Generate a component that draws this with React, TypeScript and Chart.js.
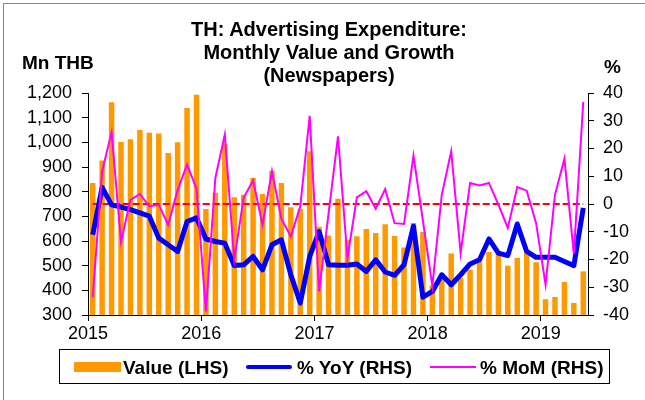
import React, { useEffect, useRef } from "react";
import { Chart, registerables } from "chart.js";

Chart.register(...registerables);

// ---- data ----
const yearLabels = ["2015", "2016", "2017", "2018", "2019"];

const valueLHS = [
  835, 926, 1162, 1001, 1012, 1050, 1039, 1036, 957, 1000, 1139, 1193,
  730, 796, 995, 777, 788, 855, 791, 885, 835, 737, 731, 964,
  658, 622, 771, 605, 619, 649, 632, 668, 620, 574, 673, 636,
  420, 445, 549, 450, 484, 518, 555, 549, 500, 531, 554, 514,
  364, 373, 434, 349, 477,
];

const yoyRHS = [
  -11.1, 6.0, -0.3, -1.1, -2.0, -3.2, -4.4, -12.3, -14.7, -17.1, -6.3, -5.0,
  -12.6, -13.5, -14.1, -22.2, -21.9, -18.9, -23.7, -14.7, -12.9, -25.5, -35.7, -18.9,
  -9.9, -21.9, -22.1, -22.1, -21.6, -24.3, -20.1, -24.5, -25.7, -21.9, -8.0, -33.6,
  -31.5, -25.5, -29.1, -25.5, -21.6, -20.1, -12.6, -17.7, -18.6, -7.2, -17.1, -19.2,
  -19.2, -19.2, -20.7, -22.2, -1.4,
];

const momRHS = [
  -33.6, 11.8, 25.9, -13.7, 1.5, 3.6, -0.9, -0.2, -7.5, 5.0, 14.2, 5.5,
  -38.7, 9.4, 25.0, -20.1, 2.2, 8.5, -7.5, 11.8, -5.3, -11.7, -0.9, 31.8,
  -31.5, -3.5, 24.4, -19.5, 2.4, 4.6, -1.7, 5.4, -6.9, -7.2, 17.4, -6.0,
  -29.5, 3.3, 19.0, -17.7, 7.6, 6.7, 7.6, -0.2, -8.6, 6.1, 4.8, -6.9,
  -29.1, 3.3, 16.3, -18.0, 36.8,
];

const zeroLine = [0, 0];

const FONT = "'Liberation Sans', Arial, sans-serif";

export default function App() {
  const canvasRef = useRef<HTMLCanvasElement | null>(null);

  useEffect(() => {
    const canvas = canvasRef.current;
    if (!canvas) return;
    const n = valueLHS.length;
    const toPts = (arr: number[]) => arr.map((v, i) => ({ x: i + 0.5, y: v }));

    const chart = new Chart(canvas, {
      type: "bar",
      data: {
        datasets: [
          {
            type: "line",
            label: "% MoM (RHS)",
            data: toPts(momRHS),
            yAxisID: "y2",
            borderColor: "#FF00FF",
            borderWidth: 2,
            pointRadius: 0,
            tension: 0,
            order: 1,
          } as any,
          {
            type: "line",
            label: "% YoY (RHS)",
            data: toPts(yoyRHS),
            yAxisID: "y2",
            borderColor: "#0000FF",
            borderWidth: 5,
            pointRadius: 0,
            tension: 0,
            borderJoinStyle: "round",
            order: 2,
          } as any,
          {
            type: "line",
            label: "zero",
            data: [
              { x: 0.5, y: zeroLine[0] },
              { x: n - 0.5, y: zeroLine[1] },
            ],
            yAxisID: "y2",
            borderColor: "#FF0000",
            borderWidth: 2,
            borderDash: [7, 3],
            pointRadius: 0,
            order: 3,
          } as any,
          {
            type: "bar",
            label: "Value (LHS)",
            data: toPts(valueLHS),
            yAxisID: "y",
            backgroundColor: "#FF9900",
            borderWidth: 0,
            categoryPercentage: 1,
            barPercentage: 0.58,
            order: 10,
          } as any,
        ],
      },
      options: {
        responsive: false,
        animation: false,
        layout: { padding: { top: 93, left: 0, right: 0, bottom: 0 } },
        plugins: { legend: { display: false }, tooltip: { enabled: false }, title: { display: false } },
        scales: {
          x: {
            type: "linear",
            min: 0,
            max: n,
            offset: false,
            grid: { display: true, drawOnChartArea: false, drawTicks: true, tickLength: 6, color: "#000", offset: false },
            border: { display: true, color: "#000", width: 1 },
            ticks: {
              stepSize: 12,
              includeBounds: false,
              autoSkip: false,
              maxRotation: 0,
              padding: 2,
              color: "#000",
              font: { family: FONT, size: 18 },
              callback: (v: any) => (Number(v) % 12 === 0 ? yearLabels[Number(v) / 12] ?? "" : ""),
            },
            afterFit: (s: any) => {
              s.height = 85;
            },
          },
          y: {
            type: "linear",
            position: "left",
            min: 300,
            max: 1200,
            beginAtZero: false,
            grid: { display: true, drawOnChartArea: false, drawTicks: true, tickLength: 6, color: "#000" },
            border: { display: true, color: "#000", width: 1 },
            ticks: {
              stepSize: 100,
              padding: 10,
              color: "#000",
              font: { family: FONT, size: 18 },
              callback: (v: any) => Number(v).toLocaleString("en-US"),
            },
            afterFit: (s: any) => {
              s.width = 88;
            },
          },
          y2: {
            type: "linear",
            position: "right",
            min: -40,
            max: 40,
            grid: { display: true, drawOnChartArea: false, drawTicks: true, tickLength: 6, color: "#000" },
            border: { display: true, color: "#000", width: 1 },
            ticks: {
              stepSize: 10,
              padding: 9,
              color: "#000",
              font: { family: FONT, size: 18 },
            },
            afterFit: (s: any) => {
              s.width = 57;
            },
          },
        },
      } as any,
    });
    return () => chart.destroy();
  }, []);

  const abs = (o: React.CSSProperties): React.CSSProperties => ({ position: "absolute", ...o });
  const legendText: React.CSSProperties = {
    position: "absolute",
    top: 0,
    lineHeight: "35px",
    fontFamily: FONT,
    fontWeight: "bold",
    fontSize: 19,
    color: "#000",
    whiteSpace: "nowrap",
  };

  return (
    <div style={abs({ left: 0, top: 0, width: 645, height: 400, overflow: "hidden", background: "#fff" })}>
      <div style={abs({ left: 3, top: 3, width: 700, height: 420, borderLeft: "1px solid #888", borderTop: "1px solid #888" })} />
      <canvas ref={canvasRef} width={645} height={400} style={abs({ left: 0, top: 0, width: 645, height: 400 })} />
      <div
        style={abs({
          left: 129,
          top: 18,
          width: 400,
          textAlign: "center",
          fontFamily: FONT,
          fontWeight: "bold",
          fontSize: 20,
          lineHeight: "23px",
          color: "#000",
        })}
      >
        TH: Advertising Expenditure:
        <br />
        Monthly Value and Growth
        <br />
        (Newspapers)
      </div>
      <div style={abs({ left: 22, top: 51, fontFamily: FONT, fontWeight: "bold", fontSize: 19, lineHeight: "23px" })}>Mn THB</div>
      <div style={abs({ left: 604, top: 55, fontFamily: FONT, fontWeight: "bold", fontSize: 19, lineHeight: "23px" })}>%</div>
      <div style={abs({ left: 59, top: 349, width: 551, height: 35, border: "1px solid #000", boxSizing: "border-box" })}>
        <div style={abs({ left: 14, top: 12, width: 47, height: 10, background: "#FF9900" })} />
        <div style={{ ...legendText, left: 63 }}>Value (LHS)</div>
        <div style={abs({ left: 186, top: 15, width: 46, height: 4, background: "#0000FF", borderRadius: 2 })} />
        <div style={{ ...legendText, left: 237 }}>% YoY (RHS)</div>
        <div style={abs({ left: 370, top: 16, width: 46, height: 2, background: "#FF00FF" })} />
        <div style={{ ...legendText, left: 420 }}>% MoM (RHS)</div>
      </div>
    </div>
  );
}
